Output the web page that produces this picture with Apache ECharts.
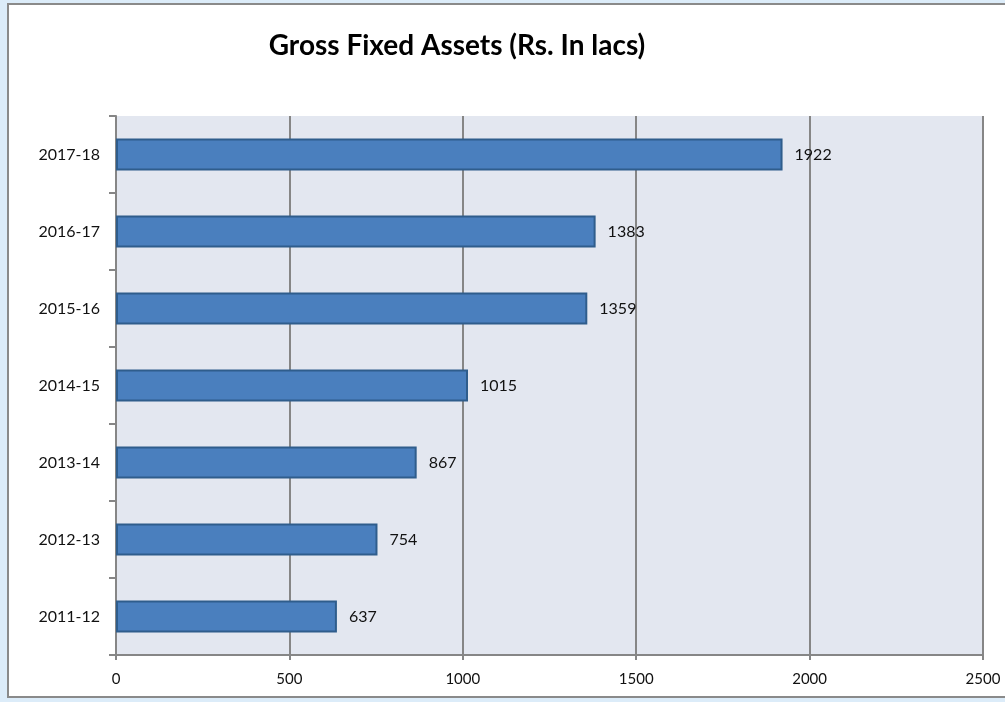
<!DOCTYPE html>
<html>
<head>
<meta charset="utf-8">
<script src="https://cdn.jsdelivr.net/npm/echarts@6/dist/echarts.min.js"></script>
<style>
  html, body { margin: 0; padding: 0; width: 1005px; height: 702px; overflow: hidden; background: #dcecf9; }
  #frame { position: absolute; left: 7px; top: 3px; width: 1010px; height: 695px; background: #ffffff; border: 2px solid #8a8a8a; box-sizing: border-box; }
  #chart { position: absolute; left: 0; top: 0; width: 1005px; height: 702px; }
</style>
</head>
<body>
<div id="frame"></div>
<div id="chart"></div>
<script>
// Financial years, bottom to top
const years = ['2011-12', '2012-13', '2013-14', '2014-15', '2015-16', '2016-17', '2017-18'];
// Gross fixed assets, Rs. in lacs
const grossFixedAssets = [637, 754, 867, 1015, 1359, 1383, 1922];
// Value axis ticks
const valueTicks = [0, 500, 1000, 1500, 2000, 2500];

const chart = echarts.init(document.getElementById('chart'), null, { renderer: 'canvas' });
const axisGray = '#868686';
const fontFamily = 'Lato, "Open Sans", sans-serif';

chart.setOption({
  backgroundColor: 'transparent',
  animation: false,
  graphic: [{
    type: 'text',
    x: 457,
    y: 46,
    style: {
      text: 'Gross Fixed Assets (Rs. In lacs)',
      fill: '#000000',
      font: 'bold 28px ' + fontFamily,
      textAlign: 'center',
      textVerticalAlign: 'middle'
    }
  }],
  grid: {
    left: 116,
    right: 22,
    top: 116,
    bottom: 47,
    show: true,
    backgroundColor: '#e3e7f0',
    borderWidth: 0
  },
  xAxis: {
    type: 'value',
    min: valueTicks[0],
    max: valueTicks[valueTicks.length - 1],
    interval: valueTicks[1] - valueTicks[0],
    axisLine: { show: true, lineStyle: { color: axisGray, width: 2 } },
    axisTick: { show: true, length: 5, lineStyle: { color: axisGray, width: 2 } },
    axisLabel: { color: '#111111', fontSize: 15, fontFamily: fontFamily, margin: 17, formatter: (v) => String(v) },
    splitLine: { show: true, lineStyle: { color: axisGray, width: 2 } }
  },
  yAxis: {
    type: 'category',
    data: years,
    axisLine: { show: true, lineStyle: { color: axisGray, width: 2 } },
    axisTick: { show: true, length: 7, lineStyle: { color: axisGray, width: 2 } },
    axisLabel: { color: '#111111', fontSize: 16, fontFamily: fontFamily, margin: 16 },
    splitLine: { show: false }
  },
  series: [{
    type: 'bar',
    data: grossFixedAssets,
    barWidth: 32,
    itemStyle: {
      color: '#4a7fbe',
      borderColor: '#2f5d8c',
      borderWidth: 2
    },
    label: {
      show: true,
      position: 'right',
      distance: 12,
      color: '#111111',
      fontSize: 16,
      fontFamily: fontFamily
    }
  }]
});
</script>
</body>
</html>
